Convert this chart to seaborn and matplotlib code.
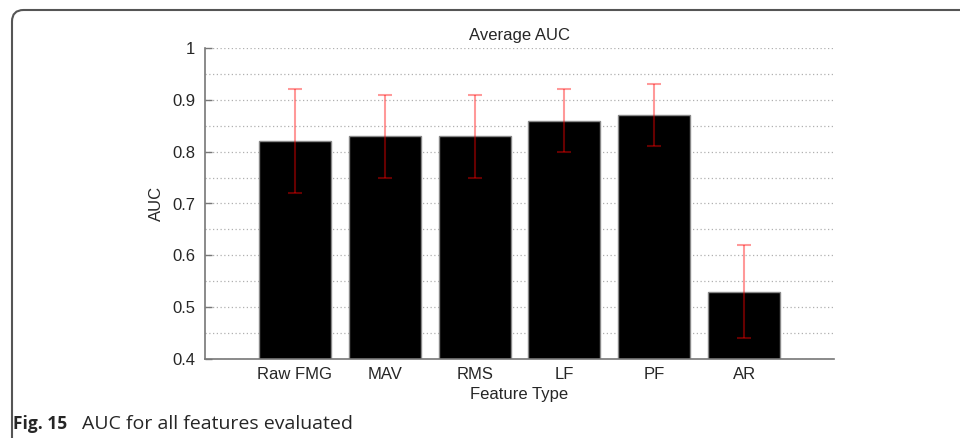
import matplotlib
matplotlib.use("Agg")
import matplotlib.pyplot as plt
import seaborn as sns
import pandas as pd
import numpy as np
from matplotlib.patches import FancyBboxPatch

categories = ["Raw FMG", "MAV", "RMS", "LF", "PF", "AR"]
auc_mean = [0.82, 0.83, 0.83, 0.86, 0.87, 0.53]
auc_low = [0.72, 0.75, 0.75, 0.80, 0.81, 0.44]
auc_high = [0.92, 0.91, 0.91, 0.92, 0.93, 0.62]

sns.set_theme(style="white")
plt.rcParams['font.family'] = ['Liberation Sans', 'DejaVu Sans']

df = pd.DataFrame({"Feature Type": categories, "AUC": auc_mean})

fig = plt.figure(figsize=(9.6, 4.38), dpi=100)
ax = fig.add_axes([205/960, 1-359/438, (834-205)/960, (359-48)/438])

sns.barplot(data=df, x="Feature Type", y="AUC", color="black", saturation=1,
            width=0.8, edgecolor="#888888", linewidth=1, ax=ax, zorder=2)

x = np.arange(len(categories))
mean = np.array(auc_mean)
yerr = np.vstack([mean - np.array(auc_low), np.array(auc_high) - mean])
ax.errorbar(x, mean, yerr=yerr, fmt="none", ecolor="red", alpha=0.4,
            elinewidth=1.5, capsize=5, capthick=1.5, zorder=3)

ax.set_xlim(-1, 6)
ax.set_ylim(0.4, 1.0)
ax.set_yticks(np.arange(0.4, 1.01, 0.1))
ax.set_yticklabels(["0.4", "0.5", "0.6", "0.7", "0.8", "0.9", "1"])
ax.set_yticks(np.arange(0.45, 1.0, 0.1), minor=True)
ax.yaxis.grid(True, which="both", linestyle=(0, (1, 2)), color="#b0b0b0", linewidth=0.9)
ax.set_axisbelow(True)
for s in ["top", "right"]:
    ax.spines[s].set_visible(False)
for s in ["left", "bottom"]:
    ax.spines[s].set_color("#777777")
    ax.spines[s].set_linewidth(1.2)
ax.tick_params(axis="y", which="major", left=True, direction="in", length=5, width=1,
               color="#777777", labelsize=12, pad=7)
ax.tick_params(axis="y", which="minor", left=False)
ax.tick_params(axis="x", bottom=False, labelsize=12, pad=0)
ax.set_xlabel("Feature Type", fontsize=12, labelpad=3)
ax.set_ylabel("AUC", fontsize=12, labelpad=6)
ax.set_title("Average AUC", fontsize=12, pad=6)

border = FancyBboxPatch((12/960, -0.2), 1.2, 1 - 10/438 + 0.2,
                        boxstyle="round,pad=0,rounding_size=0.012",
                        transform=fig.transFigure, fill=False,
                        edgecolor="#555555", linewidth=1.5, clip_on=False,
                        mutation_aspect=960/438)
fig.patches.append(border)

fig.text(13/960, 1 - 424/438, "Fig. 15", fontsize=12.5, fontweight="bold",
         family=["Open Sans", "DejaVu Sans"], va="center", ha="left")
fig.text(82/960, 1 - 424/438, "AUC for all features evaluated", fontsize=14,
         family=["Open Sans", "DejaVu Sans"], va="center", ha="left")

fig.savefig("out.png", dpi=100)
